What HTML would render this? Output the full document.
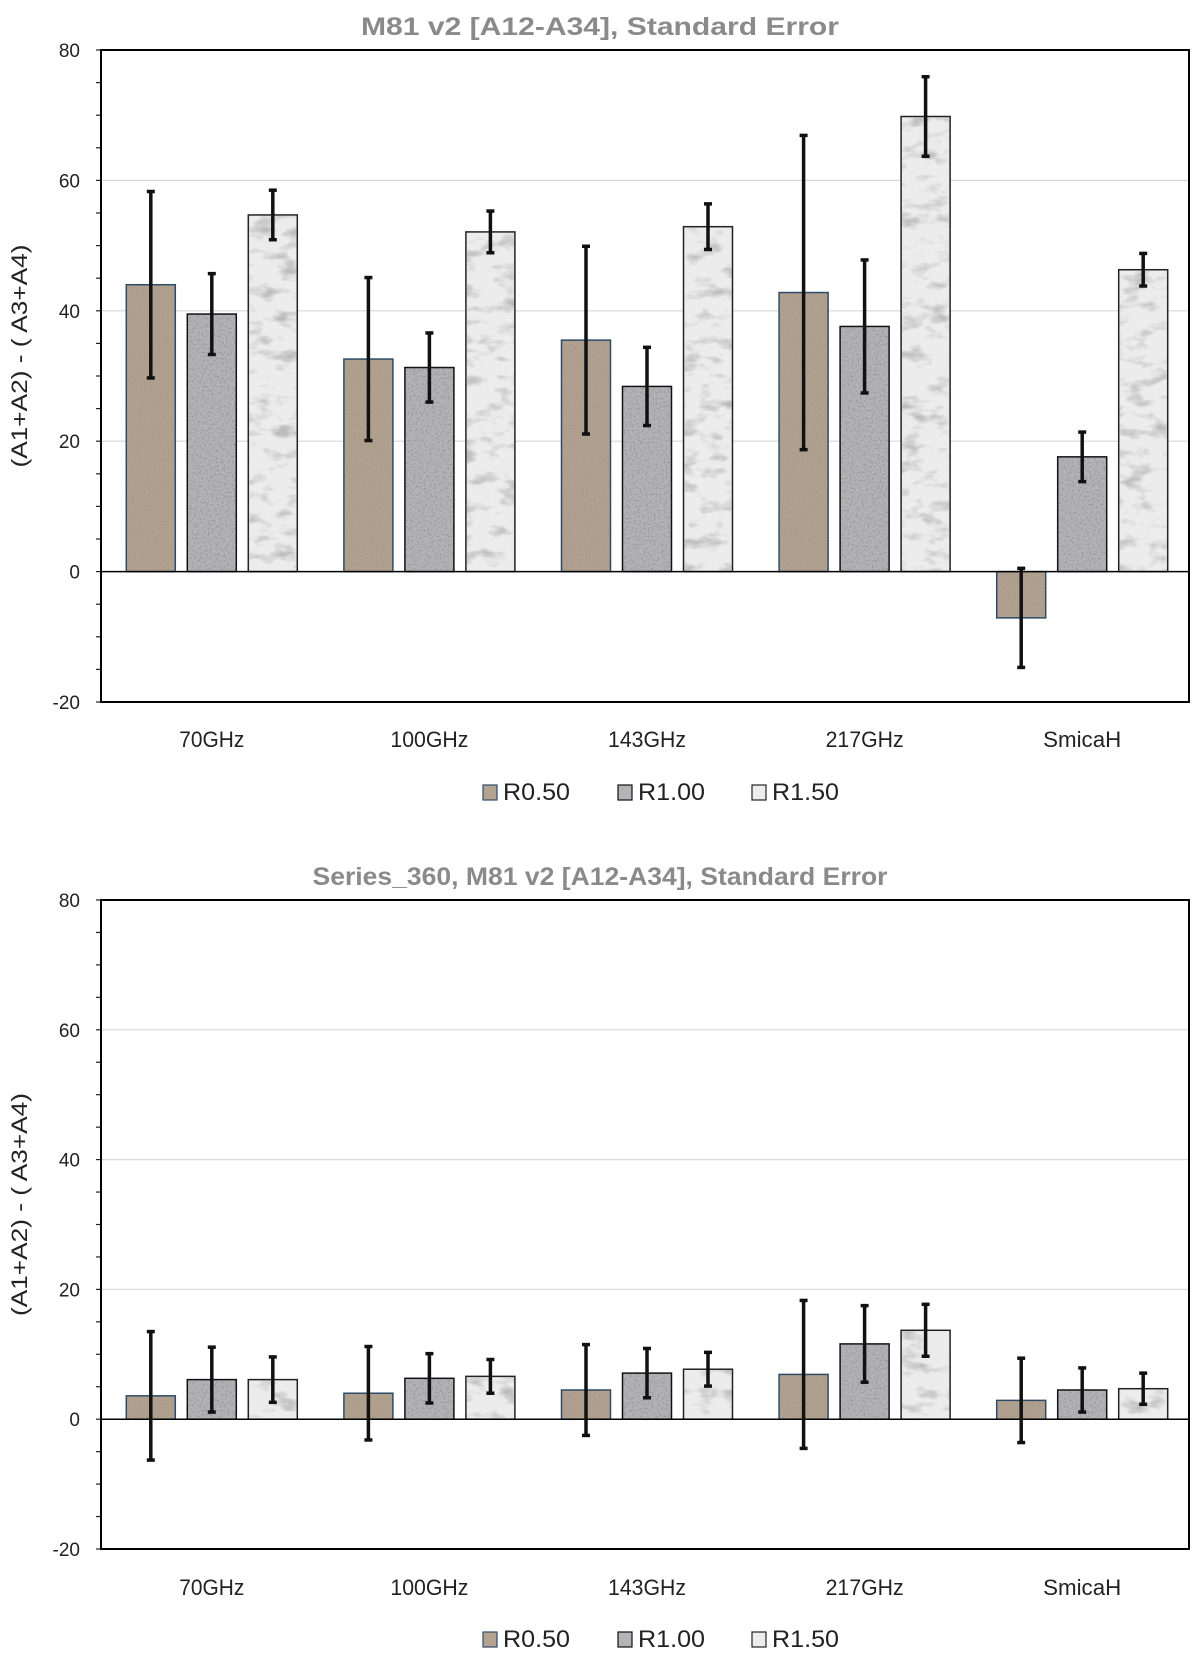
<!DOCTYPE html>
<html><head><meta charset="utf-8"><style>
body{margin:0;background:#fff;}
svg{display:block;font-family:"Liberation Sans",sans-serif;}
</style></head><body>
<svg id="chart" width="1200" height="1663" viewBox="0 0 1200 1663" xmlns="http://www.w3.org/2000/svg">
<defs>
<filter id="fb" x="0" y="0" width="1" height="1"><feTurbulence type="fractalNoise" baseFrequency="0.9" numOctaves="2" seed="3"/><feColorMatrix type="matrix" values="0 0 0 0 0.35  0 0 0 0 0.28  0 0 0 0 0.22  0 0 0 -2.2 1.3"/><feComposite in2="SourceGraphic" operator="in"/></filter>
<filter id="fg" x="0" y="0" width="1" height="1"><feTurbulence type="fractalNoise" baseFrequency="0.5" numOctaves="2" seed="7"/><feColorMatrix type="matrix" values="0 0 0 0 0.3  0 0 0 0 0.3  0 0 0 0 0.32  0 0 0 -2.5 1.4"/><feComposite in2="SourceGraphic" operator="in"/></filter>
<filter id="fm" x="0" y="0" width="1" height="1"><feTurbulence type="fractalNoise" baseFrequency="0.04 0.08" numOctaves="3" seed="11"/><feColorMatrix type="matrix" values="0 0 0 0 0.5  0 0 0 0 0.5  0 0 0 0 0.5  0 0 0 -3 1.5"/><feComposite in2="SourceGraphic" operator="in"/></filter>
</defs>
</svg>
<script>
const categories = ["70GHz","100GHz","143GHz","217GHz","SmicaH"];
const seriesNames = ["R0.50","R1.00","R1.50"];
const topR050 = [44, 32.6, 35.5, 42.8, -7.1];
const topR100 = [39.5, 31.3, 28.4, 37.6, 17.6];
const topR150 = [54.7, 52.1, 52.9, 69.8, 46.3];
const topErr050 = [14.3, 12.5, 14.4, 24.1, 7.6];
const topErr100 = [6.2, 5.3, 6.0, 10.2, 3.8];
const topErr150 = [3.8, 3.2, 3.5, 6.1, 2.5];
const botR050 = [3.6, 4.0, 4.5, 6.9, 2.9];
const botR100 = [6.1, 6.3, 7.1, 11.6, 4.5];
const botR150 = [6.1, 6.6, 7.7, 13.7, 4.7];
const botErr050 = [9.9, 7.2, 7.0, 11.4, 6.5];
const botErr100 = [5.0, 3.8, 3.8, 5.9, 3.4];
const botErr150 = [3.5, 2.6, 2.6, 4.0, 2.4];
const yTicks = [-20, 0, 20, 40, 60, 80];

const NS = "http://www.w3.org/2000/svg";
const svg = document.getElementById('chart');
const fills = ["#b3a391","#b4b4b8","#ececec"];
const strokes = ["#2e4a66","#111","#222"];
const filt = ["url(#fb)","url(#fg)","url(#fm)"];
function mk(tag, attrs, parent){const e=document.createElementNS(NS,tag);for(const k in attrs)e.setAttribute(k,attrs[k]);(parent||svg).appendChild(e);return e;}

function drawChart(opt){
  const g = mk('g',{});
  
  
  const L=101,R=1189,T=opt.top,B=opt.bottom;
  const y = v => B - (v+20)/100*(B-T);
  const gw=(R-L)/categories.length;
  [20,40,60].forEach(v=>{const l=mk('line',{x1:L,x2:R,y1:y(v),y2:y(v),stroke:'#d9d9d9','stroke-width':1.2},g);
    
    });
  const t=mk('text',{x:600,y:opt.titleY,'text-anchor':'middle','font-size':25,'font-weight':'bold',fill:'#8a8a8a',textLength:opt.titleLen,lengthAdjust:'spacingAndGlyphs'},g);
  t.textContent=opt.title;
  
  
  yTicks.forEach(v=>{const tx=mk('text',{x:80,y:y(v)+7,'text-anchor':'end','font-size':19,fill:'#222'},g);tx.textContent=v;
    
    });
  for(let v=-20;v<=80;v+=5){mk('line',{x1:L-5,x2:L,y1:y(v),y2:y(v),stroke:'#222','stroke-width':1.2},g);}
  const cy=(T+B)/2-20;
  const yt=mk('text',{x:27,y:cy,'text-anchor':'middle','font-size':22,fill:'#222',transform:`rotate(-90 27 ${cy})`,textLength:223,lengthAdjust:'spacingAndGlyphs'},g);
  yt.textContent='(A1+A2) - ( A3+A4)';
  
  
  const vals=[opt.v0,opt.v1,opt.v2], errs=[opt.e0,opt.e1,opt.e2];
  const bw=49,gap=12;
  categories.forEach((c,i)=>{
    const gx=L+i*gw+(gw-(3*bw+2*gap))/2+2;
    for(let s=0;s<3;s++){
      const v=vals[s][i], x=gx+s*(bw+gap);
      const y0=Math.min(y(v),y(0)), h=Math.abs(y(v)-y(0));
      const r=mk('rect',{x:x,y:y0,width:bw,height:h,fill:fills[s],stroke:strokes[s],'stroke-width':1.5},g);
      
      
      mk('rect',{x:x+1,y:y0+1,width:Math.max(bw-2,0),height:Math.max(h-2,0),fill:'#fff',filter:filt[s]},g);
    }
  });
  mk('line',{x1:L,x2:R,y1:y(0),y2:y(0),stroke:'#000','stroke-width':1.5},g);
  const fr=mk('rect',{x:L,y:T,width:R-L,height:B-T,fill:'none',stroke:'#000','stroke-width':2},g);
  
  
  categories.forEach((c,i)=>{
    const gx=L+i*gw+(gw-(3*bw+2*gap))/2+2;
    for(let s=0;s<3;s++){
      const v=vals[s][i],e=errs[s][i],cx=gx+s*(bw+gap)+bw/2;
      const eg=mk('g',{stroke:'#111','stroke-width':3.5},g);
      
      
      mk('line',{x1:cx,x2:cx,y1:y(v-e),y2:y(v+e)},eg);
      mk('line',{x1:cx-4,x2:cx+4,y1:y(v-e),y2:y(v-e)},eg);
      mk('line',{x1:cx-4,x2:cx+4,y1:y(v+e),y2:y(v+e)},eg);
    }
    const cl=mk('text',{x:L+i*gw+gw/2+2,y:opt.labelY,'text-anchor':'middle','font-size':22,fill:'#222',textLength:c.length*13,lengthAdjust:'spacingAndGlyphs'},g);
    cl.textContent=c;
    
    
  });
  const lx=[483,618,752];
  seriesNames.forEach((n,s)=>{
    const lg=mk('g',{},g);
    
    
    mk('rect',{x:lx[s],y:opt.legendY-15,width:14,height:15,fill:fills[s],stroke:strokes[s],'stroke-width':1.2},lg);
    const lt=mk('text',{x:lx[s]+20,y:opt.legendY,'font-size':24,fill:'#222',textLength:67,lengthAdjust:'spacingAndGlyphs'},lg);
    lt.textContent=n;
  });
}
drawChart({name:'top-chart',title:'M81 v2 [A12-A34],  Standard Error',titleLen:478,top:50,bottom:702,titleY:35,labelY:747,legendY:800,
  v0:topR050,v1:topR100,v2:topR150,e0:topErr050,e1:topErr100,e2:topErr150});
drawChart({name:'bottom-chart',title:'Series_360, M81 v2  [A12-A34],  Standard Error',titleLen:575,top:900,bottom:1549,titleY:885,labelY:1595,legendY:1647,
  v0:botR050,v1:botR100,v2:botR150,e0:botErr050,e1:botErr100,e2:botErr150});
</script>
</body></html>
